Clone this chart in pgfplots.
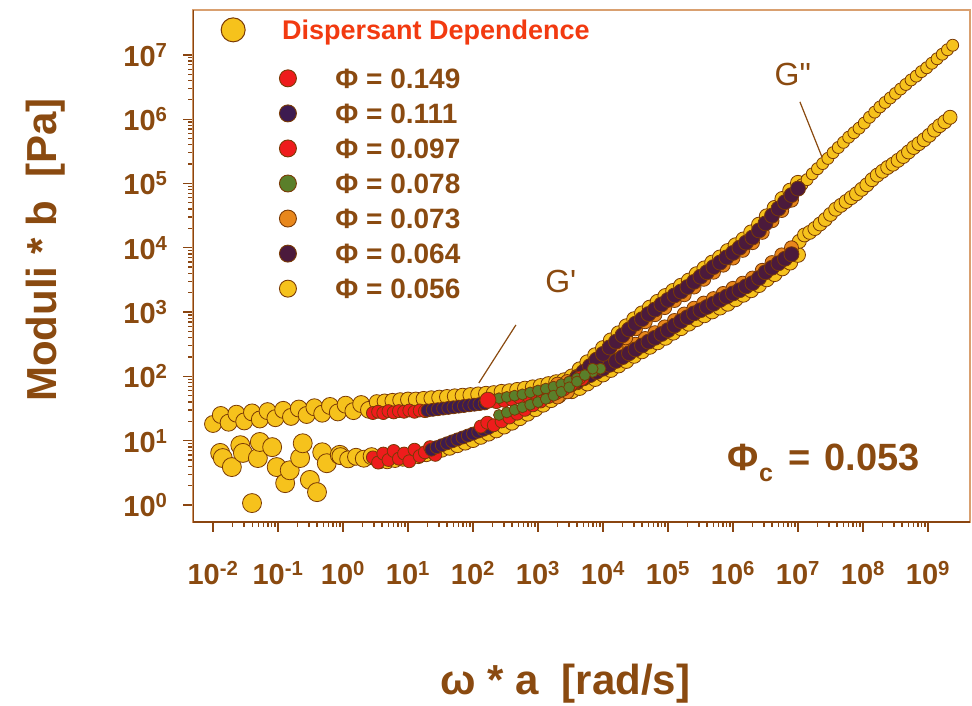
\documentclass[border=0pt]{standalone}
\usepackage{pgfplots}
\pgfplotsset{compat=1.18}
\usepackage{pgfplotstable}
\usepackage{fontspec}
\setmainfont{Liberation Sans}
\definecolor{markedge}{HTML}{7A3A05}
\definecolor{yfill}{HTML}{F6C21C}
\definecolor{ofill}{HTML}{E8871C}
\definecolor{dfill}{HTML}{4B1A3C}
\definecolor{gfill}{HTML}{5A7F2A}
\definecolor{rfill}{HTML}{EE1C1C}
\definecolor{pfill}{HTML}{3D1B50}
\definecolor{textbrown}{HTML}{8A4A10}
\definecolor{titlered}{HTML}{F23A10}
\definecolor{axisbrown}{HTML}{8A4510}
\definecolor{frametan}{HTML}{D9A070}

% columns: u = log10(omega*a), v = log10(modulus*b)
\pgfplotstableread{
u v
-2.00 1.26
-1.88 1.40
-1.76 1.28
-1.64 1.42
-1.52 1.30
-1.40 1.44
-1.28 1.33
-1.16 1.46
-1.04 1.35
-0.92 1.48
-0.80 1.37
-0.68 1.50
-0.56 1.40
-0.44 1.52
-0.32 1.42
-0.20 1.54
-0.08 1.44
0.04 1.56
0.16 1.46
0.28 1.57
0.40 1.48
-0.04 0.76
0.08 0.71
0.20 0.75
0.32 0.72
0.44 0.76
}\tabYlow

\pgfplotstableread{
u v
-1.89 0.81
-1.85 0.73
-1.71 0.59
-1.58 0.93
-1.54 0.81
-1.40 0.03
-1.31 0.73
-1.28 0.98
-1.09 0.90
-1.02 0.59
-0.89 0.34
-0.82 0.54
-0.66 0.73
-0.62 0.96
-0.51 0.39
-0.40 0.20
-0.32 0.82
-0.25 0.65
-0.05 0.78
}\tabYscat

\pgfplotstableread{
u v
0.52 1.60
0.64 1.61
0.76 1.62
0.88 1.63
1.00 1.64
1.12 1.64
1.24 1.65
1.36 1.66
1.48 1.67
1.60 1.68
1.72 1.69
1.84 1.70
1.96 1.71
2.08 1.72
2.20 1.73
2.32 1.74
2.44 1.76
2.56 1.77
2.68 1.79
2.80 1.81
2.92 1.83
3.04 1.85
3.16 1.88
3.28 1.91
3.40 1.94
0.56 0.68
0.68 0.68
0.80 0.70
0.92 0.72
1.04 0.74
1.16 0.76
1.28 0.79
1.40 0.82
1.52 0.86
1.64 0.89
1.76 0.93
1.88 0.97
2.00 1.01
2.12 1.06
2.24 1.11
2.36 1.16
2.48 1.22
2.60 1.28
2.72 1.35
2.84 1.42
2.96 1.49
3.08 1.56
3.20 1.63
3.32 1.70
3.44 1.77
3.52 1.77
3.64 1.82
3.76 1.89
3.88 1.96
4.00 2.03
4.12 2.10
4.24 2.17
4.36 2.24
4.48 2.32
4.60 2.39
4.72 2.46
4.84 2.53
4.96 2.60
5.08 2.68
5.20 2.75
5.32 2.82
5.44 2.89
5.56 2.95
5.68 3.01
5.80 3.07
5.92 3.13
6.04 3.20
6.16 3.27
6.28 3.34
6.40 3.42
6.52 3.51
6.64 3.59
6.76 3.68
6.88 3.77
7.00 3.89
3.52 2.00
3.64 2.11
3.76 2.22
3.88 2.33
4.00 2.44
4.12 2.56
4.24 2.67
4.36 2.78
4.48 2.89
4.60 2.98
4.72 3.07
4.84 3.16
4.96 3.25
5.08 3.33
5.20 3.41
5.32 3.49
5.44 3.59
5.56 3.68
5.68 3.77
5.80 3.85
5.92 3.95
6.04 4.04
6.16 4.13
6.28 4.24
6.40 4.36
6.52 4.49
6.64 4.62
6.76 4.76
6.88 4.89
7.00 5.01
}\tabYmid

\pgfplotstableread{
u v
7.02 4.10
7.10 4.20
7.18 4.24
7.26 4.30
7.34 4.37
7.42 4.44
7.50 4.52
7.58 4.60
7.66 4.66
7.74 4.72
7.82 4.78
7.90 4.84
7.98 4.91
8.06 4.98
8.14 5.06
8.22 5.13
8.30 5.19
8.38 5.25
8.46 5.30
8.54 5.36
8.62 5.42
8.70 5.49
8.78 5.56
8.86 5.62
8.94 5.68
9.02 5.75
9.10 5.83
9.18 5.90
9.26 5.96
9.34 6.03
}\tabYhiA

\pgfplotstableread{
u v
7.06 4.98
7.14 5.06
7.22 5.15
7.30 5.23
7.38 5.31
7.46 5.39
7.54 5.48
7.62 5.56
7.70 5.64
7.78 5.72
7.86 5.79
7.94 5.86
8.02 5.94
8.10 6.03
8.18 6.11
8.26 6.19
8.34 6.26
8.42 6.33
8.50 6.40
8.58 6.47
8.66 6.54
8.74 6.61
8.82 6.67
8.90 6.74
8.98 6.80
9.06 6.87
9.14 6.94
9.22 7.01
9.30 7.08
9.38 7.15
}\tabYhiB

\pgfplotstableread{
u v
3.30 1.88
3.45 1.92
3.60 2.00
3.75 2.08
3.90 2.15
4.05 2.23
4.20 2.32
4.35 2.41
4.50 2.50
4.65 2.59
4.80 2.68
4.95 2.77
5.10 2.87
5.25 2.97
5.40 3.06
5.55 3.14
5.70 3.21
5.85 3.29
6.00 3.37
6.15 3.45
6.30 3.53
6.45 3.65
6.60 3.77
6.75 3.89
6.90 4.00
3.30 1.68
3.45 1.76
3.60 1.90
3.75 2.04
3.90 2.18
4.05 2.32
4.20 2.46
4.35 2.60
4.50 2.74
4.65 2.85
4.80 2.96
4.95 3.07
5.10 3.18
5.25 3.27
5.40 3.39
5.55 3.51
5.70 3.62
5.85 3.73
6.00 3.84
6.15 3.96
6.30 4.08
6.45 4.24
6.60 4.42
6.75 4.58
6.90 4.74
}\tabOrange

\pgfplotstableread{
u v
3.50 1.87
3.60 1.92
3.70 1.97
3.80 2.02
3.90 2.07
4.00 2.12
4.10 2.18
4.20 2.24
4.30 2.30
4.40 2.36
4.50 2.42
4.60 2.48
4.70 2.54
4.80 2.60
4.90 2.66
5.00 2.72
5.10 2.79
5.20 2.86
5.30 2.92
5.40 2.98
5.50 3.03
5.60 3.08
5.70 3.13
5.80 3.19
5.90 3.24
6.00 3.29
6.10 3.34
6.20 3.40
6.30 3.45
6.40 3.53
6.50 3.62
6.60 3.69
6.70 3.76
6.80 3.83
6.90 3.90
3.50 1.89
3.60 1.98
3.70 2.07
3.80 2.16
3.90 2.26
4.00 2.35
4.10 2.45
4.20 2.54
4.30 2.64
4.40 2.73
4.50 2.82
4.60 2.89
4.70 2.97
4.80 3.04
4.90 3.12
5.00 3.19
5.10 3.26
5.20 3.32
5.30 3.39
5.40 3.47
5.50 3.55
5.60 3.62
5.70 3.70
5.80 3.77
5.90 3.85
6.00 3.92
6.10 4.00
6.20 4.08
6.30 4.16
6.40 4.27
6.50 4.38
6.60 4.50
6.70 4.61
6.80 4.71
6.90 4.82
7.00 4.92
}\tabDark

\pgfplotstableread{
u v
0.46 1.43
0.54 1.45
0.62 1.43
0.70 1.46
0.78 1.44
0.86 1.46
0.94 1.45
1.02 1.47
1.10 1.45
1.18 1.47
1.26 1.46
0.46 0.74
0.54 0.66
0.62 0.80
0.70 0.70
0.78 0.84
0.86 0.72
0.94 0.80
1.02 0.68
1.10 0.86
1.18 0.76
1.26 0.82
1.34 0.90
1.42 0.78
}\tabRedA

\pgfplotstableread{
u v
1.30 1.47
1.38 1.48
1.46 1.49
1.54 1.50
1.62 1.51
1.70 1.52
1.78 1.53
1.86 1.54
1.94 1.55
2.02 1.56
2.10 1.57
2.18 1.58
1.36 0.86
1.44 0.90
1.52 0.93
1.60 0.96
1.68 0.99
1.76 1.02
1.84 1.05
1.92 1.08
2.00 1.11
2.08 1.14
2.16 1.17
2.24 1.20
}\tabPurple

\pgfplotstableread{
u v
2.36 1.60
2.48 1.62
2.60 1.64
2.72 1.67
2.84 1.70
2.96 1.73
3.08 1.76
3.20 1.79
3.32 1.82
3.44 1.85
3.56 1.90
3.68 1.96
2.12 1.22
2.22 1.28
2.32 1.24
2.44 1.30
2.56 1.36
2.68 1.42
2.80 1.48
2.92 1.55
3.04 1.61
3.16 1.68
3.28 1.74
3.40 1.80
3.52 1.88
3.64 1.98
}\tabRedB

\pgfplotstableread{
u v
2.23 1.63
}\tabRedDot

\pgfplotstableread{
u v
2.40 1.66
2.52 1.68
2.64 1.70
2.76 1.72
2.88 1.75
3.00 1.78
3.12 1.81
3.24 1.84
3.36 1.88
3.48 1.92
3.60 1.97
3.72 2.02
3.84 2.07
3.96 2.12
2.40 1.40
2.52 1.44
2.64 1.48
2.76 1.52
2.88 1.56
3.00 1.60
3.12 1.65
3.24 1.70
3.36 1.76
3.48 1.83
3.60 1.92
3.72 2.02
3.84 2.12
}\tabGreen

\pgfplotsset{
  dot/.style 2 args={forget plot, only marks, mark=*, mark size=#2,
    mark options={draw=markedge, line width=0.8bp, fill=#1}},
  legdot/.style={only marks, mark=*, mark size=8.5bp,
    mark options={draw=markedge, line width=0.9bp, fill=#1}},
}

\begin{document}
\begin{tikzpicture}
\useasboundingbox (-193bp,-184bp) rectangle (779bp,522bp);
\begin{axis}[
  scale only axis, width=777bp, height=512bp,
  xmode=log, ymode=log,
  xmin=0.00492, xmax=4.43e9, ymin=0.544, ymax=4.99e7,
  xtick={1e-2,1e-1,1,1e1,1e2,1e3,1e4,1e5,1e6,1e7,1e8,1e9},
  xticklabels={10\textsuperscript{-2},10\textsuperscript{-1},10\textsuperscript{0},10\textsuperscript{1},10\textsuperscript{2},10\textsuperscript{3},10\textsuperscript{4},10\textsuperscript{5},10\textsuperscript{6},10\textsuperscript{7},10\textsuperscript{8},10\textsuperscript{9}},
  ytick={1,1e1,1e2,1e3,1e4,1e5,1e6,1e7},
  yticklabels={10\textsuperscript{0},10\textsuperscript{1},10\textsuperscript{2},10\textsuperscript{3},10\textsuperscript{4},10\textsuperscript{5},10\textsuperscript{6},10\textsuperscript{7}},
  xtick pos=bottom, ytick pos=left, tick align=outside,
  major tick length=10bp, minor tick length=5bp,
  tick style={color=axisbrown, line width=1.3bp},
  axis line style={draw=frametan, line width=1.5bp},
  tick label style={font=\fontsize{29bp}{31bp}\selectfont\bfseries, text=textbrown},
  xticklabel style={yshift=-26bp},
  yticklabel style={xshift=-12bp},
  label style={font=\fontsize{42bp}{46bp}\selectfont\bfseries, text=textbrown},
  xlabel={ω * a\ \ [rad/s]},
  ylabel={Moduli * b\ \ [Pa]},
  xlabel style={at={(axis description cs:0.479,-0.315)}, anchor=center},
  ylabel style={at={(axis description cs:-0.19,0.531)}, anchor=center},
  legend style={at={(axis description cs:0.111,0.886)}, anchor=north west,
    draw=none, fill=none, inner sep=0pt, row sep=15.5bp, column sep=39bp,
    nodes={inner sep=0pt, text depth=0pt}, cells={anchor=west},
    font=\fontsize{28bp}{30bp}\selectfont\bfseries, text=textbrown},
]
\addlegendimage{legdot=rfill}\addlegendentry{Φ = 0.149}
\addlegendimage{legdot=pfill}\addlegendentry{Φ = 0.111}
\addlegendimage{legdot=rfill}\addlegendentry{Φ = 0.097}
\addlegendimage{legdot=gfill}\addlegendentry{Φ = 0.078}
\addlegendimage{legdot=ofill}\addlegendentry{Φ = 0.073}
\addlegendimage{legdot=dfill}\addlegendentry{Φ = 0.064}
\addlegendimage{legdot=yfill}\addlegendentry{Φ = 0.056}

% Phi = 0.056 (yellow)
\addplot[dot={yfill}{9.5bp}] table[x expr=10^\thisrow{u}, y expr=10^\thisrow{v}] {\tabYscat};
\addplot[dot={yfill}{8.5bp}] table[x expr=10^\thisrow{u}, y expr=10^\thisrow{v}] {\tabYlow};
\addplot[dot={yfill}{7.5bp}] table[x expr=10^\thisrow{u}, y expr=10^\thisrow{v}] {\tabYmid};
\addplot[dot={yfill}{7bp}] table[x expr=10^\thisrow{u}, y expr=10^\thisrow{v}] {\tabYhiA};
\addplot[dot={yfill}{6bp}] table[x expr=10^\thisrow{u}, y expr=10^\thisrow{v}] {\tabYhiB};
% Phi = 0.073 (orange)
\addplot[dot={ofill}{7bp}] table[x expr=10^\thisrow{u}, y expr=10^\thisrow{v}] {\tabOrange};
% Phi = 0.064 (dark purple)
\addplot[dot={dfill}{7.5bp}] table[x expr=10^\thisrow{u}, y expr=10^\thisrow{v}] {\tabDark};
% Phi = 0.149 (red)
\addplot[dot={rfill}{6.5bp}] table[x expr=10^\thisrow{u}, y expr=10^\thisrow{v}] {\tabRedA};
% Phi = 0.111 (purple)
\addplot[dot={pfill}{6.5bp}] table[x expr=10^\thisrow{u}, y expr=10^\thisrow{v}] {\tabPurple};
% Phi = 0.097 (red)
\addplot[dot={rfill}{6.5bp}] table[x expr=10^\thisrow{u}, y expr=10^\thisrow{v}] {\tabRedB};
% Phi = 0.078 (green)
\addplot[dot={gfill}{5.5bp}] table[x expr=10^\thisrow{u}, y expr=10^\thisrow{v}] {\tabGreen};
\addplot[dot={rfill}{8bp}] table[x expr=10^\thisrow{u}, y expr=10^\thisrow{v}] {\tabRedDot};

\draw[axisbrown, line width=2bp] (rel axis cs:0,1) -- (rel axis cs:0,0) -- (rel axis cs:1,0);
\draw[textbrown, line width=1.2bp] (axis cs:457,631) -- (axis cs:123,79);
\draw[textbrown, line width=1.2bp] (axis cs:1.07e7,1.86e6) -- (axis cs:2.34e7,2.58e5);
\node[text=textbrown, font=\fontsize{32bp}{34bp}\selectfont] at (axis cs:2240,2940) {G\textquotesingle};
\node[text=textbrown, font=\fontsize{32bp}{34bp}\selectfont] at (axis cs:8.3e6,5.0e6) {G\textquotedbl};
\node[anchor=base west, text=textbrown, font=\fontsize{38bp}{42bp}\selectfont\bfseries, inner sep=0pt] at (axis cs:8.3e5,3.5) {Φ\raisebox{-0.3em}{\fontsize{25bp}{25bp}\selectfont c}\hspace{0.12em} = \hspace{0.1em}0.053};
\end{axis}
\begin{axis}[
  scale only axis, width=777bp, height=512bp, hide axis,
  xmin=0, xmax=1, ymin=0, ymax=1,
  legend style={at={(axis description cs:0.036,0.985)}, anchor=north west,
    draw=none, fill=none, inner sep=0pt, column sep=37bp,
    nodes={inner sep=0pt, text depth=0pt}, cells={anchor=west},
    font=\fontsize{27bp}{29bp}\selectfont\bfseries, text=titlered},
]
\addlegendimage{only marks, mark=*, mark size=12bp, mark options={draw=markedge, line width=1bp, fill=yfill}}
\addlegendentry{Dispersant Dependence}
\end{axis}
\end{tikzpicture}
\end{document}
